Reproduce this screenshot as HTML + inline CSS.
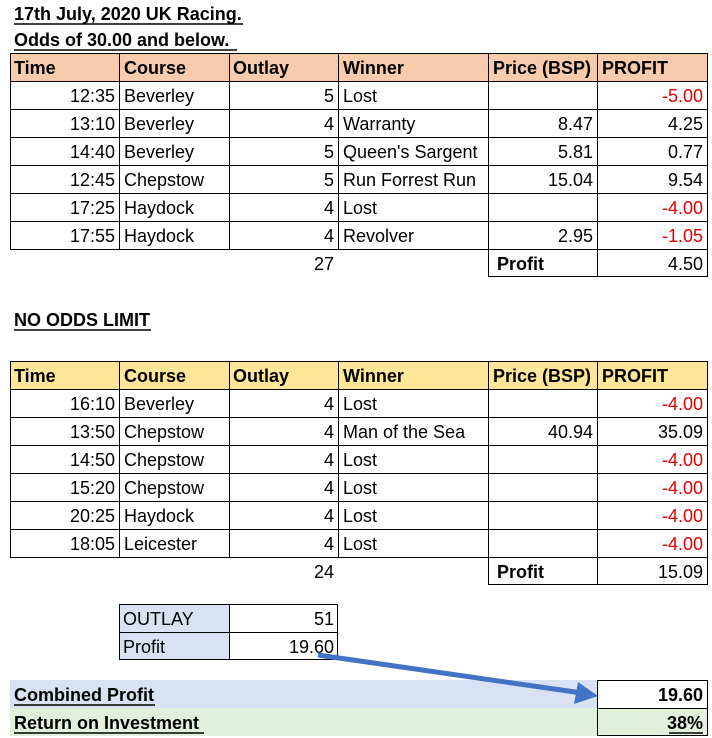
<!DOCTYPE html>
<html><head><meta charset="utf-8"><style>
body{margin:0;background:#fff;}
svg{display:block;font-family:"Liberation Sans",sans-serif;}
text{font-size:18px;fill:#000;}
.b{font-weight:bold;}
.r{text-anchor:end;}
.red{fill:#e00000;}
</style></head><body>
<svg width="712" height="738" viewBox="0 0 712 738">
<!-- titles -->
<text x="14" y="20" class="b">17th July, 2020 UK Racing.</text>
<line x1="14" y1="24" x2="243" y2="24" stroke="#000" stroke-width="1.5"/>
<text x="14" y="46" class="b">Odds of 30.00 and below.</text>
<line x1="14" y1="50" x2="237" y2="50" stroke="#000" stroke-width="1.5"/>

<!-- table 1 -->
<rect x="10" y="53" width="698" height="28" fill="#f8cbad"/>
<g stroke="#000" stroke-width="1" fill="none">
<rect x="10.5" y="53.5" width="697" height="196"/>
<line x1="10" y1="81.5" x2="708" y2="81.5"/><line x1="10" y1="109.5" x2="708" y2="109.5"/>
<line x1="10" y1="137.5" x2="708" y2="137.5"/><line x1="10" y1="165.5" x2="708" y2="165.5"/>
<line x1="10" y1="193.5" x2="708" y2="193.5"/><line x1="10" y1="221.5" x2="708" y2="221.5"/>
<line x1="119.5" y1="53" x2="119.5" y2="249"/><line x1="229.5" y1="53" x2="229.5" y2="249"/>
<line x1="338.5" y1="53" x2="338.5" y2="249"/><line x1="488.5" y1="53" x2="488.5" y2="277"/>
<line x1="597.5" y1="53" x2="597.5" y2="277"/><line x1="707.5" y1="249" x2="707.5" y2="277"/>
<line x1="488" y1="276.5" x2="708" y2="276.5"/>
</g>
<text x="14" y="74" class="b">Time</text><text x="124" y="74" class="b">Course</text>
<text x="233" y="74" class="b">Outlay</text><text x="343" y="74" class="b">Winner</text>
<text x="493" y="74" class="b">Price (BSP)</text><text x="602" y="74" class="b">PROFIT</text>
<g>
<text x="115" y="102" class="r">12:35</text><text x="124" y="102">Beverley</text><text x="334" y="102" class="r">5</text><text x="343" y="102">Lost</text><text x="703" y="102" class="r red">-5.00</text>
<text x="115" y="130" class="r">13:10</text><text x="124" y="130">Beverley</text><text x="334" y="130" class="r">4</text><text x="343" y="130">Warranty</text><text x="593" y="130" class="r">8.47</text><text x="703" y="130" class="r">4.25</text>
<text x="115" y="158" class="r">14:40</text><text x="124" y="158">Beverley</text><text x="334" y="158" class="r">5</text><text x="343" y="158">Queen's Sargent</text><text x="593" y="158" class="r">5.81</text><text x="703" y="158" class="r">0.77</text>
<text x="115" y="186" class="r">12:45</text><text x="124" y="186">Chepstow</text><text x="334" y="186" class="r">5</text><text x="343" y="186">Run Forrest Run</text><text x="593" y="186" class="r">15.04</text><text x="703" y="186" class="r">9.54</text>
<text x="115" y="214" class="r">17:25</text><text x="124" y="214">Haydock</text><text x="334" y="214" class="r">4</text><text x="343" y="214">Lost</text><text x="703" y="214" class="r red">-4.00</text>
<text x="115" y="242" class="r">17:55</text><text x="124" y="242">Haydock</text><text x="334" y="242" class="r">4</text><text x="343" y="242">Revolver</text><text x="593" y="242" class="r">2.95</text><text x="703" y="242" class="r red">-1.05</text>
<text x="334" y="270" class="r">27</text><text x="497" y="270" class="b">Profit</text><text x="703" y="270" class="r">4.50</text>
</g>

<text x="14" y="326" class="b">NO ODDS LIMIT</text>
<line x1="14" y1="330" x2="151" y2="330" stroke="#000" stroke-width="1.5"/>

<!-- table 2 -->
<rect x="10" y="361" width="698" height="28" fill="#ffe699"/>
<g stroke="#000" stroke-width="1" fill="none">
<rect x="10.5" y="361.5" width="697" height="196"/>
<line x1="10" y1="389.5" x2="708" y2="389.5"/><line x1="10" y1="417.5" x2="708" y2="417.5"/>
<line x1="10" y1="445.5" x2="708" y2="445.5"/><line x1="10" y1="473.5" x2="708" y2="473.5"/>
<line x1="10" y1="501.5" x2="708" y2="501.5"/><line x1="10" y1="529.5" x2="708" y2="529.5"/>
<line x1="119.5" y1="361" x2="119.5" y2="557"/><line x1="229.5" y1="361" x2="229.5" y2="557"/>
<line x1="338.5" y1="361" x2="338.5" y2="557"/><line x1="488.5" y1="361" x2="488.5" y2="585"/>
<line x1="597.5" y1="361" x2="597.5" y2="585"/><line x1="707.5" y1="557" x2="707.5" y2="585"/>
<line x1="488" y1="584.5" x2="708" y2="584.5"/>
</g>
<text x="14" y="382" class="b">Time</text><text x="124" y="382" class="b">Course</text>
<text x="233" y="382" class="b">Outlay</text><text x="343" y="382" class="b">Winner</text>
<text x="493" y="382" class="b">Price (BSP)</text><text x="602" y="382" class="b">PROFIT</text>
<g>
<text x="115" y="410" class="r">16:10</text><text x="124" y="410">Beverley</text><text x="334" y="410" class="r">4</text><text x="343" y="410">Lost</text><text x="703" y="410" class="r red">-4.00</text>
<text x="115" y="438" class="r">13:50</text><text x="124" y="438">Chepstow</text><text x="334" y="438" class="r">4</text><text x="343" y="438">Man of the Sea</text><text x="593" y="438" class="r">40.94</text><text x="703" y="438" class="r">35.09</text>
<text x="115" y="466" class="r">14:50</text><text x="124" y="466">Chepstow</text><text x="334" y="466" class="r">4</text><text x="343" y="466">Lost</text><text x="703" y="466" class="r red">-4.00</text>
<text x="115" y="494" class="r">15:20</text><text x="124" y="494">Chepstow</text><text x="334" y="494" class="r">4</text><text x="343" y="494">Lost</text><text x="703" y="494" class="r red">-4.00</text>
<text x="115" y="522" class="r">20:25</text><text x="124" y="522">Haydock</text><text x="334" y="522" class="r">4</text><text x="343" y="522">Lost</text><text x="703" y="522" class="r red">-4.00</text>
<text x="115" y="550" class="r">18:05</text><text x="124" y="550">Leicester</text><text x="334" y="550" class="r">4</text><text x="343" y="550">Lost</text><text x="703" y="550" class="r red">-4.00</text>
<text x="334" y="578" class="r">24</text><text x="497" y="578" class="b">Profit</text><text x="703" y="578" class="r">15.09</text>
</g>

<!-- outlay box -->
<rect x="119" y="604" width="110" height="56" fill="#d9e1f2"/>
<g stroke="#000" stroke-width="1" fill="none">
<rect x="119.5" y="604.5" width="218" height="55"/>
<line x1="119" y1="632.5" x2="338" y2="632.5"/><line x1="229.5" y1="604" x2="229.5" y2="660"/>
</g>
<text x="123" y="625">OUTLAY</text><text x="334" y="625" class="r">51</text>
<text x="123" y="653">Profit</text><text x="334" y="653" class="r">19.60</text>

<!-- combined -->
<rect x="10" y="680" width="587" height="28" fill="#d9e1f2"/>
<rect x="10" y="708" width="698" height="28" fill="#e2efda"/>
<rect x="597.5" y="680.5" width="110" height="55" fill="none" stroke="#000"/>
<line x1="597" y1="708.5" x2="708" y2="708.5" stroke="#000"/>
<text x="14" y="701" class="b">Combined Profit</text>
<line x1="14" y1="705" x2="155" y2="705" stroke="#000" stroke-width="1.5"/>
<text x="14" y="729" class="b">Return on Investment</text>
<line x1="14" y1="733" x2="204" y2="733" stroke="#000" stroke-width="1.5"/>
<text x="703" y="701" class="r b">19.60</text>
<text x="703" y="729" class="r b">38%</text>
<line x1="669" y1="733" x2="703" y2="733" stroke="#000" stroke-width="1.5"/>

<!-- arrow -->
<line x1="318" y1="655" x2="582" y2="693" stroke="#4472c4" stroke-width="5"/>
<polygon points="598,696 578,682 574,704" fill="#4472c4"/>
</svg>
</body></html>
